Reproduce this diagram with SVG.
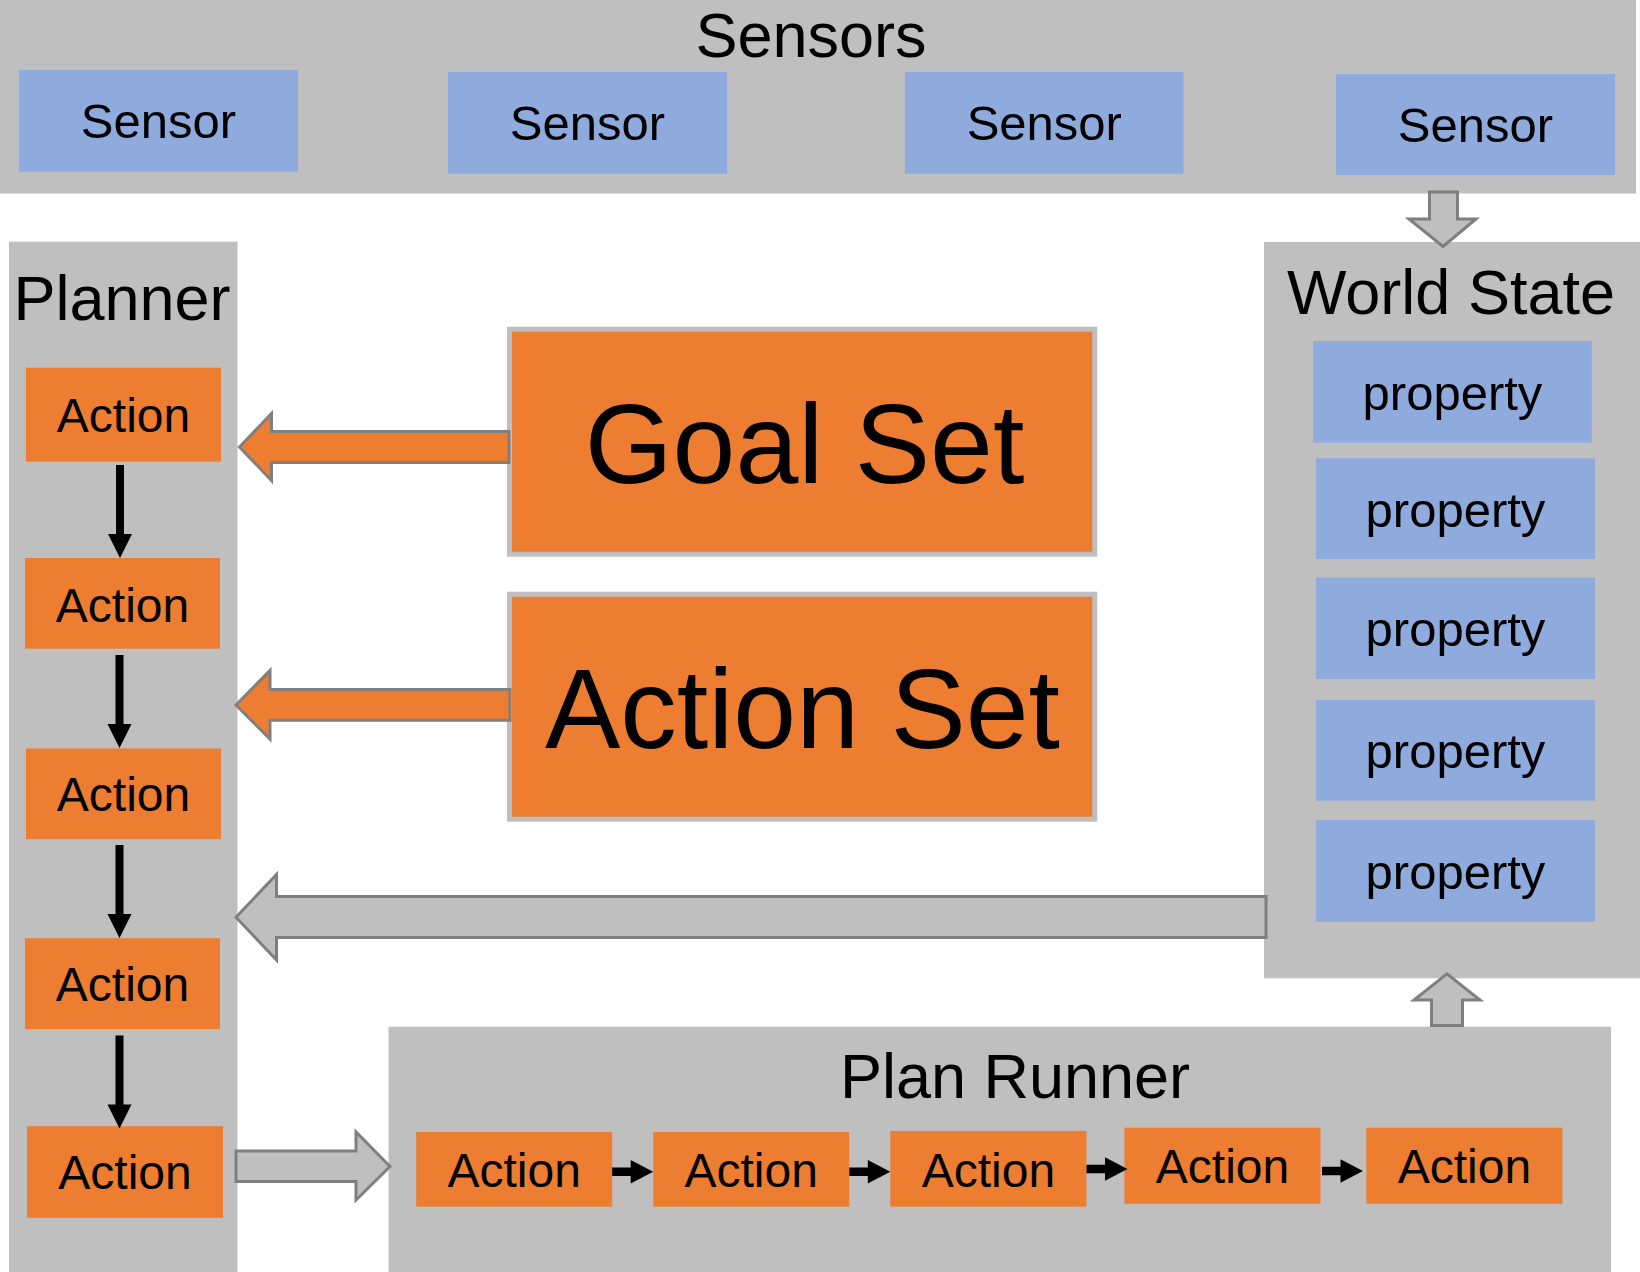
<svg xmlns="http://www.w3.org/2000/svg" width="1640" height="1272" viewBox="0 0 1640 1272">
<style>
.panel{fill:#BFBFBF}
.blue{fill:#8FAADC}
.orange{fill:#ED7D31}
.setbox{fill:#ED7D31;stroke:#BFBFBF;stroke-width:5}
.blk{fill:#BFBFBF;stroke:#7F7F7F;stroke-width:3;stroke-linejoin:miter}
.oblk{fill:#ED7D31;stroke:#7F7F7F;stroke-width:3;stroke-linejoin:miter}
text{font-family:"Liberation Sans",Arial,sans-serif;fill:#000;text-anchor:middle}
.h{font-size:63px}
.s{font-size:49px}
.a{font-size:48px}
.big{font-size:113px}
</style>
<defs>
<path id="down" d="M-4,0 H4 V69 H12 L0,93 L-12,69 H-4 Z"/>
<path id="right" d="M0,-4.2 H18.5 V-11.7 L41,0 L18.5,11.7 V4.2 H0 Z"/>
</defs>

<g id="sensors">
<rect class="panel" x="0" y="0" width="1636" height="193.5"/>
<text class="h" x="811" y="56.5">Sensors</text>
<g id="sensor1"><rect class="blue" x="18.8" y="70" width="279.2" height="101.7"/><text class="s" x="158.4" y="138.3">Sensor</text></g>
<g id="sensor2"><rect class="blue" x="448" y="72" width="279" height="101.7"/><text class="s" x="587.5" y="140">Sensor</text></g>
<g id="sensor3"><rect class="blue" x="905" y="72" width="278.5" height="101.7"/><text class="s" x="1044.3" y="139.5">Sensor</text></g>
<g id="sensor4"><rect class="blue" x="1336" y="74" width="279" height="101"/><text class="s" x="1475.5" y="141.5">Sensor</text></g>
</g>

<g id="planner">
<rect class="panel" x="9" y="241.7" width="228.5" height="1030.3"/>
<text class="h" x="122" y="320">Planner</text>
<g id="pa1"><rect class="orange" x="26" y="367.7" width="195" height="94"/><text class="a" x="123.5" y="432">Action</text></g>
<g id="pa2"><rect class="orange" x="25" y="558" width="195" height="90.7"/><text class="a" x="122.5" y="621.5">Action</text></g>
<g id="pa3"><rect class="orange" x="26" y="748.5" width="195" height="90.6"/><text class="a" x="123.5" y="811">Action</text></g>
<g id="pa4"><rect class="orange" x="25" y="938.2" width="195" height="90.9"/><text class="a" x="122.5" y="1000.8">Action</text></g>
<g id="pa5"><rect class="orange" x="27" y="1126.2" width="196" height="91.6"/><text class="a" x="125" y="1189.2">Action</text></g>
</g>

<g id="worldstate">
<rect class="panel" x="1264" y="242" width="376" height="736.3"/>
<text class="h" x="1451" y="314">World State</text>
<g id="prop1"><rect class="blue" x="1313.3" y="341" width="278.4" height="101.7"/><text class="s" x="1452.5" y="410">property</text></g>
<g id="prop2"><rect class="blue" x="1316" y="458.3" width="279" height="100.7"/><text class="s" x="1455.5" y="526.7">property</text></g>
<g id="prop3"><rect class="blue" x="1316" y="577.7" width="279" height="101.3"/><text class="s" x="1455.5" y="646.3">property</text></g>
<g id="prop4"><rect class="blue" x="1316" y="700" width="279" height="100.7"/><text class="s" x="1455.5" y="768.3">property</text></g>
<g id="prop5"><rect class="blue" x="1316" y="820" width="279" height="101.7"/><text class="s" x="1455.5" y="888.5">property</text></g>
</g>

<g id="planrunner">
<rect class="panel" x="388.5" y="1026.7" width="1222.5" height="245.3"/>
<text class="h" x="1015" y="1098.3">Plan Runner</text>
<g id="ra1"><rect class="orange" x="416.2" y="1132" width="196" height="74.7"/><text class="a" x="514.2" y="1186.7">Action</text></g>
<g id="ra2"><rect class="orange" x="653.2" y="1132" width="196" height="74.7"/><text class="a" x="751.2" y="1186.7">Action</text></g>
<g id="ra3"><rect class="orange" x="890.3" y="1131" width="196.2" height="75.7"/><text class="a" x="988.4" y="1186.5">Action</text></g>
<g id="ra4"><rect class="orange" x="1124.4" y="1127.7" width="196.1" height="76"/><text class="a" x="1222.5" y="1183">Action</text></g>
<g id="ra5"><rect class="orange" x="1366.3" y="1127.7" width="196.1" height="76"/><text class="a" x="1464.4" y="1183">Action</text></g>
</g>

<g id="goalset"><rect class="setbox" x="509.5" y="329.2" width="585.3" height="225"/><text class="big" x="804.5" y="483.3">Goal Set</text></g>
<g id="actionset"><rect class="setbox" x="509.5" y="594.2" width="585.3" height="225"/><text class="big" x="802.5" y="748.3">Action Set</text></g>

<g id="connectors">
<use href="#down" x="120" y="465"/>
<use href="#down" x="119.5" y="655"/>
<use href="#down" x="119.5" y="845"/>
<use href="#down" x="119.5" y="1035.5"/>
<use href="#right" x="612.2" y="1171.7"/>
<use href="#right" x="849.3" y="1171.7"/>
<use href="#right" x="1086.5" y="1169"/>
<use href="#right" x="1322" y="1171"/>
<polygon class="oblk" points="239.5,447 271.5,413.5 271.5,431.5 509,431.5 509,462.5 271.5,462.5 271.5,480.5"/>
<polygon class="oblk" points="236,705 270,670.5 270,689.5 510,689.5 510,720.2 270,720.2 270,739.2"/>
<polygon class="blk" points="236,917.3 276.5,874.5 276.5,896.5 1266,896.5 1266,937.5 276.5,937.5 276.5,960"/>
<polygon class="blk" points="236,1151 356,1151 356,1132 390,1166.5 356,1200 356,1181.5 236,1181.5"/>
<polygon class="blk" points="1429.5,192 1457.5,192 1457.5,219 1476,219 1443,246.5 1409,219 1429.5,219"/>
<polygon class="blk" points="1431.5,1025.5 1431.5,1000 1414,1000 1447,973.8 1480,1000 1462.5,1000 1462.5,1025.5"/>
</g>
</svg>
